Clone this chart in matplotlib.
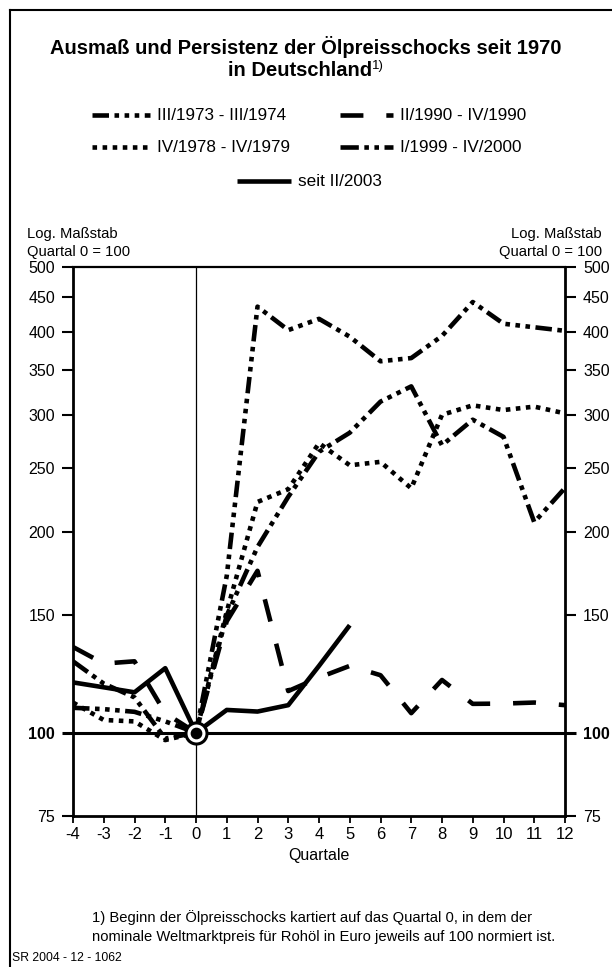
import matplotlib
matplotlib.use("Agg")
import matplotlib.pyplot as plt
from matplotlib.lines import Line2D
import numpy as np

plt.rcParams['font.family'] = ['Liberation Sans', 'DejaVu Sans']

# ---- data (Quartal 0 = 100) ----
quarters = np.arange(-4, 13)
q2003 = np.arange(-4, 6)

s1973 = [109, 108.5, 107.5, 104, 100, 172, 436, 402, 418, 393, 361, 365, 394, 443, 411, 406, 401]
s1990 = [134.5, 127, 128, 107, 100, 147, 175, 115.5, 121, 126, 122, 107, 120, 110.5, 110.6, 111, 110]
s1978 = [111, 104.5, 104, 97.5, 100, 152, 222, 232, 272, 252, 255, 232.7, 300, 310, 305, 308.6, 301.5]
s1999 = [128, 118.5, 113, 98, 100, 150, 190, 226, 264, 282, 314, 331, 270, 295, 278, 207, 233]
s2003 = [119, 117, 115, 125, 100, 108.2, 107.6, 110, 126, 145]

labels = ['III/1973 - III/1974', 'II/1990 - IV/1990', 'IV/1978 - IV/1979',
          'I/1999 - IV/2000', 'seit II/2003']

yticks = [75, 100, 150, 200, 250, 300, 350, 400, 450, 500]

# dash patterns (units of linewidth)
st1973 = (0, (3.6, 1.2, 1, 1.2, 1, 1.2, 1, 1.2))
st1990 = (0, (5, 5))
st1978 = (0, (1, 1.2))
st1999 = (0, (4, 1.2, 1, 1.2, 1, 1.2))
lw = 3.3

fig = plt.figure(figsize=(6.12, 9.67), dpi=100)
ax = fig.add_axes([73/612, 1-816/967, (565-73)/612, (816-267)/967])

ax.set_yscale('log')
ax.set_ylim(75, 500)
ax.set_xlim(-4, 12)

ax.axvline(0, color='black', lw=0.9, zorder=1)
ax.axhline(100, color='black', lw=2.2, zorder=1)

kw = dict(color='black', lw=lw, dash_capstyle='butt', solid_capstyle='butt', zorder=3)
ax.plot(quarters, s1973, linestyle=st1973, **kw)
ax.plot(quarters, s1990, linestyle=st1990, **kw)
ax.plot(quarters, s1978, linestyle=st1978, **kw)
ax.plot(quarters, s1999, linestyle=st1999, **kw)
ax.plot(q2003, s2003, linestyle='-', **kw)

# origin marker
ax.scatter([0], [100], s=230, facecolor='white', edgecolor='black', linewidth=2.2, zorder=5)
ax.scatter([0], [100], s=55, color='black', zorder=6)

ax.set_yticks(yticks)
ax.set_yticklabels([str(v) for v in yticks])
ax.yaxis.set_minor_locator(matplotlib.ticker.NullLocator())
ax.tick_params(axis='y', which='major', direction='out', length=8, width=1.5,
               labelsize=11.5, left=True, right=True, labelleft=True, labelright=True, pad=5)
# bold "100" on both sides
for t in ax.yaxis.get_major_ticks():
    if t.label1.get_text() == '100':
        t.label1.set_fontweight('bold')
        t.label2.set_fontweight('bold')
        t.tick1line.set_markeredgewidth(2.2)
        t.tick2line.set_markeredgewidth(2.2)

ax.set_xticks(quarters)
ax.set_xticklabels([str(q) for q in quarters])
ax.tick_params(axis='x', direction='out', length=5, width=1.3, labelsize=12, pad=3)
ax.set_xlabel('Quartale', fontsize=11.5, labelpad=4)

for side in ['left', 'right', 'bottom']:
    ax.spines[side].set_linewidth(2.0)
ax.spines['top'].set_linewidth(1.6)

# title
fig.text(0.5, 1-47/967, 'Ausmaß und Persistenz der Ölpreisschocks seit 1970',
         ha='center', va='center', fontsize=14.5, fontweight='bold')
t2 = fig.text(0.49, 1-71/967, 'in Deutschland', ha='center', va='center',
              fontsize=14.5, fontweight='bold')
ax.annotate('1)', xy=(1, 1), xycoords=t2, xytext=(0.3, 1), textcoords='offset points',
            ha='left', va='top', fontsize=9.5, annotation_clip=False)

# legend drawn by hand
def leg(x0, x1, y, style, text):
    fig.add_artist(Line2D([x0/612, x1/612], [1-y/967, 1-y/967], transform=fig.transFigure,
                          color='black', lw=lw, linestyle=style,
                          dash_capstyle='butt', solid_capstyle='butt'))
    fig.text((x1+7)/612, 1-y/967, text, ha='left', va='center', fontsize=12.3)

leg(92, 150, 115, st1973, labels[0])
leg(340, 393, 115, st1990, labels[1])
leg(92, 150, 147, st1978, labels[2])
leg(340, 393, 147, st1999, labels[3])
leg(237, 291, 181, '-', labels[4])

# axis notes
fig.text(27/612, 1-234/967, 'Log. Maßstab', ha='left', va='center', fontsize=10.6)
fig.text(27/612, 1-252/967, 'Quartal 0 = 100', ha='left', va='center', fontsize=10.6)
fig.text(602/612, 1-234/967, 'Log. Maßstab', ha='right', va='center', fontsize=10.6)
fig.text(602/612, 1-252/967, 'Quartal 0 = 100', ha='right', va='center', fontsize=10.6)

# footnote
fig.text(92/612, 1-918/967, '1) Beginn der Ölpreisschocks kartiert auf das Quartal 0, in dem der',
         ha='left', va='center', fontsize=10.6)
fig.text(92/612, 1-937/967, 'nominale Weltmarktpreis für Rohöl in Euro jeweils auf 100 normiert ist.',
         ha='left', va='center', fontsize=10.6)
fig.text(12/612, 1-958/967, 'SR 2004 - 12 - 1062', ha='left', va='center', fontsize=8.8)

# frame (left and top)
fig.add_artist(Line2D([10/612, 10/612], [0, 1-10/967], transform=fig.transFigure, color='black', lw=1.5))
fig.add_artist(Line2D([10/612, 1], [1-10/967, 1-10/967], transform=fig.transFigure, color='black', lw=1.5))

fig.savefig('out.png', dpi=100)
